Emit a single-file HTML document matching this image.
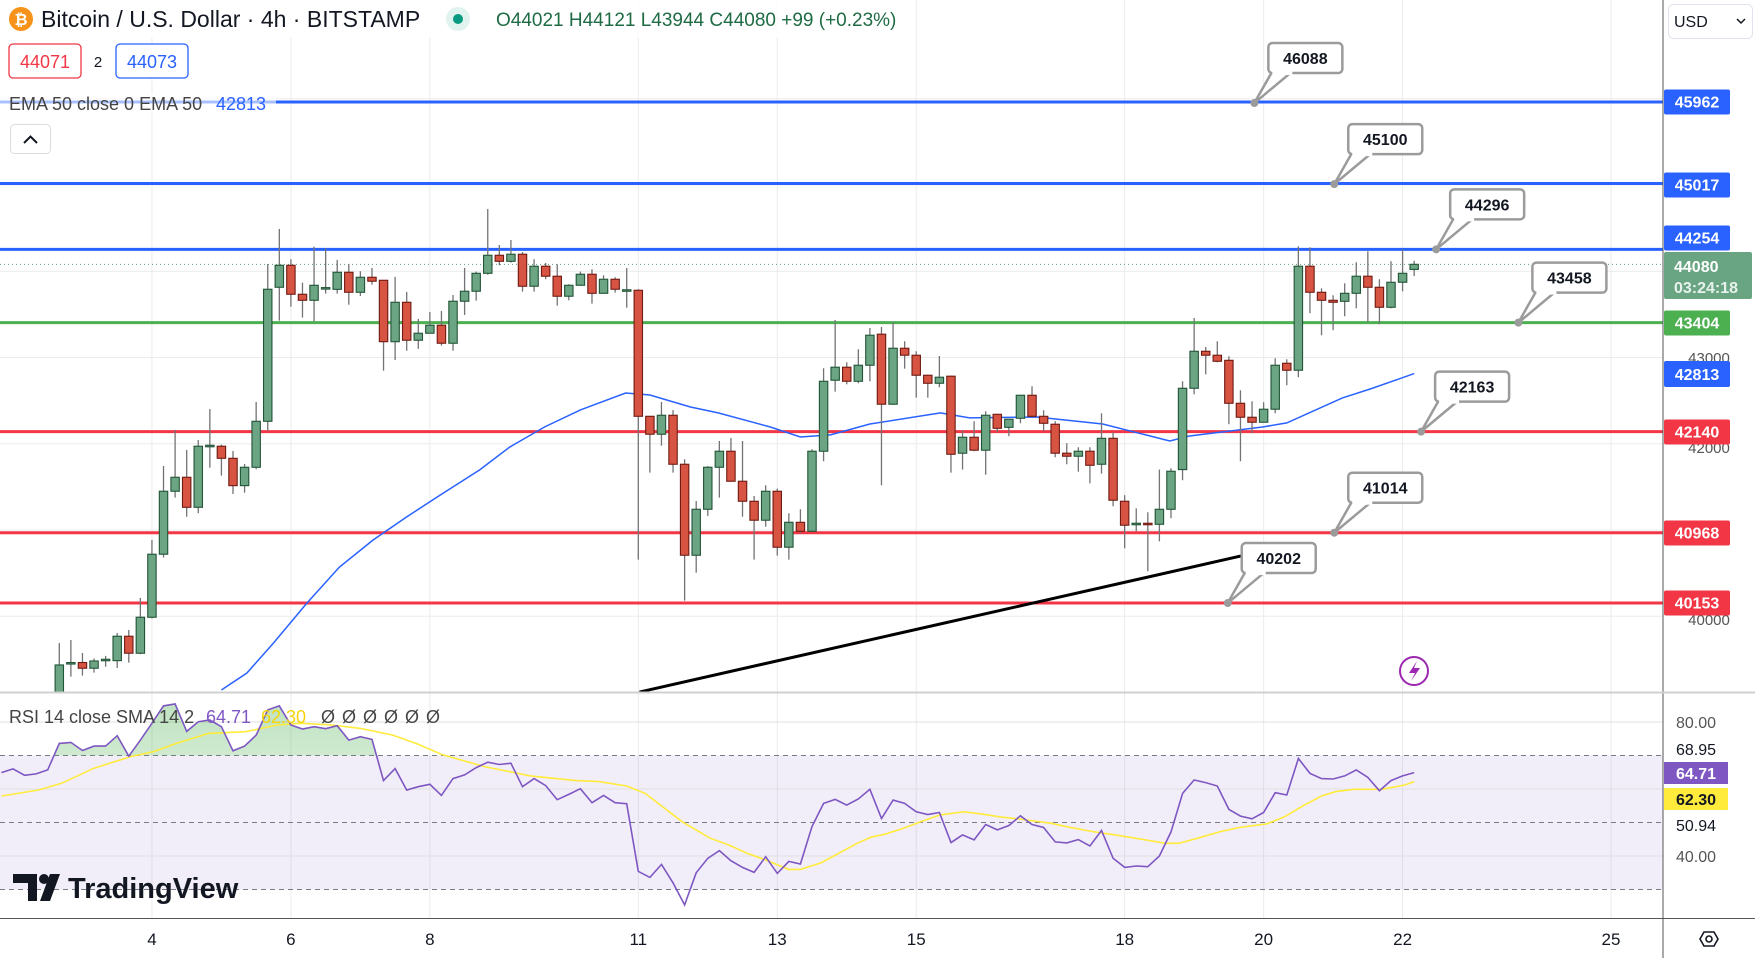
<!DOCTYPE html>
<html><head><meta charset="utf-8">
<style>
html,body{margin:0;padding:0;background:#fff;width:1755px;height:958px;overflow:hidden;font-family:"Liberation Sans",sans-serif;}
svg{display:block}
text{font-family:"Liberation Sans",sans-serif}
</style></head>
<body>
<svg id="chart" width="1755" height="958" viewBox="0 0 1755 958" xmlns="http://www.w3.org/2000/svg">
<defs>
<clipPath id="mainClip"><rect x="0" y="0" width="1663" height="692"/></clipPath>
<clipPath id="rsiClip"><rect x="0" y="693" width="1663" height="225"/></clipPath>
<linearGradient id="obGrad" x1="0" y1="0" x2="0" y2="1"><stop offset="0" stop-color="#4caf50" stop-opacity="0.35"/><stop offset="1" stop-color="#4caf50" stop-opacity="0.04"/></linearGradient>
</defs>
<g id="grid"></g>
<g id="main" clip-path="url(#mainClip)"></g>
<g id="rsi" clip-path="url(#rsiClip)"></g>
<g id="axes"></g>
<g id="overlay"></g>
</svg>
<script>
const opens=[39050,39447,39463,39397,39495,39485,39768,39571,39988,40719,41449,41611,41263,41971,41971,41831,41514,41727,42260,43814,44069,43733,43663,43800,43790,43988,43756,43930,43895,43183,43640,43200,43281,43374,43165,43652,43768,43976,44185,44115,44197,43826,44058,43942,43710,43837,43965,43744,43907,43779,43779,42318,42110,42330,41762,40707,41240,41727,41913,41565,41333,41113,41449,40800,41089,40985,41913,42736,42887,42724,42910,43270,42458,43107,43026,42794,42701,42783,41890,42075,41925,42341,42190,42295,42562,42318,42226,41890,41855,41913,41762,42063,41333,41070,41078,41066,41240,41700,42643,43072,43026,42967,42469,42307,42249,42400,42933,42852,44058,43756,43663,43651,43744,43942,43814,43582,43872,44021];
const highs=[39690,39725,39574,39510,39540,39806,39841,40212,40884,41742,42160,41928,42044,42403,41990,41916,41765,42484,44084,44490,44139,43867,44285,44266,44131,44084,44000,44038,43895,43934,43760,43447,43528,43539,43725,44038,43995,44722,44304,44362,44223,44139,44096,44081,43849,43995,44023,43953,43930,44038,43791,42322,42484,42391,41820,41336,41740,42032,42067,42032,41394,41518,41480,41194,41240,41936,42875,43435,42944,43095,43342,43354,43412,43188,43072,42800,43017,42790,42156,42261,42376,42345,42284,42562,42666,42388,42261,42005,41959,41959,42353,42133,41403,41251,41205,41700,41716,42724,43458,43122,43188,43014,42620,42492,42481,42991,42979,44289,44277,43802,43721,43860,44104,44232,43907,44116,44253,44121];
const lows=[38950,39300,39311,39346,39415,39400,39462,39560,39975,40680,41375,41154,41194,41722,41630,41418,41433,41704,42145,43427,43589,43462,43415,43740,43740,43612,43713,43844,42847,42971,43079,43099,43281,43137,43079,43493,43659,43960,44069,44100,43763,43763,43907,43601,43663,43837,43624,43744,43752,43577,40656,41665,41977,41665,40181,40505,41163,41375,41560,41154,40656,41038,40703,40656,40962,40975,41797,42604,42689,42701,42724,41518,42450,42870,42534,42534,42654,41665,41700,41913,41641,42133,42087,42237,42318,42145,41843,41762,41676,41541,41653,41275,40788,40985,40521,40869,41136,41577,42573,42805,42944,42226,41797,42121,42249,42353,42678,42771,43513,43257,43316,43478,43570,43408,43385,43570,43767,43944];
const closes=[39435,39463,39397,39481,39501,39768,39571,39988,40719,41449,41611,41263,41971,41982,41831,41514,41727,42260,43791,44069,43733,43663,43837,43810,43988,43756,43930,43884,43183,43640,43200,43281,43374,43165,43652,43768,43976,44185,44115,44197,43826,44058,43942,43710,43837,43965,43744,43907,43791,43785,42318,42110,42330,41762,40707,41240,41727,41913,41565,41333,41113,41449,40800,41089,40985,41913,42724,42887,42724,42910,43258,42458,43107,43026,42794,42701,42771,41878,42075,41925,42330,42179,42284,42562,42318,42237,41890,41855,41913,41750,42063,41345,41055,41078,41070,41240,41681,42643,43072,43026,42956,42469,42307,42249,42400,42910,42852,44058,43756,43663,43640,43744,43942,43814,43582,43872,43976,44080];
const emaIdx=[15,17.2,19.5,22.4,25.2,28.1,31,33.9,37.3,39.9,42.9,46,49.9,52,55.5,57.9,62.4,65,67.6,71,77.1,79.6,85.4,91.1,96.9,98.6,104.9,107,111.8,114.2,118];
const emaVal=[39145,39342,39690,40154,40571,40884,41151,41406,41696,41962,42194,42392,42588,42565,42426,42357,42194,42078,42102,42229,42357,42299,42310,42229,42032,42090,42194,42241,42531,42635,42813];
const rsiStartIdx=-4;
const rsiVals=[64.9,66.0,64.1,64.5,65.7,73.6,73.9,71.5,72.8,72.8,75.9,69.8,74.6,79.6,84.8,85.4,77.2,80.1,80.6,78.6,71.4,72.8,76.1,83.6,84.8,79.1,77.9,78.6,78.0,78.9,74.6,75.6,74.8,62.5,66.1,59.7,60.7,61.4,58.1,63.1,64.2,66.4,68.0,67.3,67.7,60.7,63.1,61.0,56.8,58.4,60.1,55.9,58.1,55.9,55.6,35.4,33.6,37.5,32.0,25.4,35.0,39.3,41.6,38.6,36.6,35.1,39.8,34.8,38.4,37.6,48.8,55.7,56.9,55.2,57.0,59.9,51.2,56.7,55.7,53.2,52.4,53.0,44.0,46.3,44.8,49.4,47.8,49.1,52.0,49.4,48.5,44.2,43.9,44.9,43.0,47.6,39.3,36.6,37.0,36.8,40.0,47.2,58.7,62.7,61.9,60.9,53.9,51.9,51.1,53.0,58.9,58.2,69.1,64.7,63.1,63.0,63.9,65.7,63.5,59.5,62.5,63.9,64.9];
const smaIdx=[-4,-0.8,1.2,4,7.2,9.1,11.1,13.9,17.1,19.8,21.8,24.6,27,29.8,31.8,34.1,37.7,41.7,45.6,47.6,50,51.6,54.8,57.2,58.8,60.4,62,64,65,66.8,68.3,69.9,71.1,72.3,73.9,75.5,77.1,79.1,80.7,82.2,84.2,86.6,88.2,90.2,92.2,94.5,96.5,97.7,99.3,101.3,102.9,105.3,106.8,108.4,110,111.2,112.8,115.2,117.2,118];
const smaVals=[57.9,59.7,61.7,66.2,69.7,71.1,73.6,76.6,77.1,79.1,79.6,79.1,78.1,76.1,73.6,70.2,66.7,63.9,62.5,62.2,60.9,58.7,50.2,45.3,43.3,40.8,38.8,36.0,36.0,38.0,40.8,43.8,45.6,46.5,48.3,50.4,52.3,53.2,52.5,51.7,50.9,49.8,48.6,47.3,46.3,45.0,43.8,43.8,45.3,47.3,48.5,49.6,51.7,55.0,57.9,59.2,59.9,59.9,61.2,62.2];
const dayLabels=["4","6","8","11","13","15","18","20","22","25"];
const dayNums=[4,6,8,11,13,15,18,20,22,25];
const priceTicks=[40000,41000,42000,43000,44000,45000,46000];
const levelPrices=[45962,45017,44254,43404,42140,40968,40153];
const levelColors=["#2962ff","#2962ff","#2962ff","#4caf50","#f23645","#f23645","#f23645"];
const levelLabelY=[102,185,238,323,432,533,603];
const calloutVals=["46088","45100","44296","43458","42163","41014","40202"];
const calloutIdx=[104.2,111.1,119.9,127.0,118.6,111.1,101.9];
const calloutPrices=[45950,45010,44254,43404,42140,40968,40153];
const rsiTicks=[80,60,40];
const rsiBands=[70,50,30];

const NS="http://www.w3.org/2000/svg";
function mk(tag,attrs,parent){const e=document.createElementNS(NS,tag);for(const k in attrs)e.setAttribute(k,attrs[k]);parent.appendChild(e);return e;}
const xOf=i=>59.3+(i-1)*11.58;
const yP=p=>102+(45962-p)*0.08625;
const yR=v=>722+(80-v)*3.35;
const xDay=d=>xOf(9+(d-4)*6);

const grid=document.getElementById('grid'),main=document.getElementById('main'),rsi=document.getElementById('rsi'),axes=document.getElementById('axes'),ov=document.getElementById('overlay');

dayNums.forEach((d,k)=>{const l=mk('line',{x1:xDay(d),x2:xDay(d),y1:0,y2:918,stroke:'#ebebeb','stroke-width':1},grid);

});
priceTicks.forEach(p=>{const l=mk('line',{x1:0,x2:1663,y1:yP(p),y2:yP(p),stroke:'#ebebeb','stroke-width':1},grid);

});

levelPrices.forEach((p,k)=>{const l=mk('line',{x1:0,x2:1663,y1:yP(p),y2:yP(p),stroke:levelColors[k],'stroke-width':3},main);

});
const cp=mk('line',{x1:0,x2:1663,y1:yP(closes[closes.length-1]),y2:yP(closes[closes.length-1]),stroke:'#5b9c7a','stroke-width':1,'stroke-dasharray':'1 3'},main);



const tl=mk('line',{x1:xOf(51.1),y1:yP(39121),x2:xOf(103.1),y2:yP(40700),stroke:'#000','stroke-width':3},main);



let ed='';emaIdx.forEach((i,k)=>{ed+=(k?'L':'M')+xOf(i).toFixed(1)+' '+yP(emaVal[k]).toFixed(1);});
const ema=mk('path',{d:ed,fill:'none',stroke:'#2962ff','stroke-width':1.5},main);



for(let i=0;i<opens.length;i++){
 const x=xOf(i+1),o=opens[i],c=closes[i],up=c>=o;
 const g=mk('g',{},main);
 
 
 mk('line',{x1:x,x2:x,y1:yP(highs[i]),y2:yP(lows[i]),stroke:'#737375','stroke-width':1.3},g);
 const top=yP(Math.max(o,c)),h=Math.max(yP(Math.min(o,c))-top,1.5);
 mk('rect',{x:x-4.2,y:top,width:8.4,height:h,fill:up?'#6ba583':'#d75442',stroke:up?'#225437':'#6f1a12','stroke-width':1.1},g);
}

const band=mk('rect',{x:0,y:yR(70),width:1663,height:yR(30)-yR(70),fill:'#7e57c2','fill-opacity':0.1},rsi);


rsiTicks.forEach(v=>{const l=mk('line',{x1:0,x2:1663,y1:yR(v),y2:yR(v),stroke:'#e0e0e0','stroke-width':1},rsi);

});
rsiBands.forEach(v=>{const l=mk('line',{x1:0,x2:1663,y1:yR(v),y2:yR(v),stroke:'#787b86','stroke-width':1,'stroke-dasharray':'5 4'},rsi);

});
let rd='';rsiVals.forEach((v,k)=>{rd+=(k?'L':'M')+xOf(rsiStartIdx+k).toFixed(1)+' '+yR(v).toFixed(1);});
const clipOb=mk('clipPath',{id:'obClip'},document.querySelector('defs'));mk('rect',{x:0,y:0,width:1663,height:yR(70)},clipOb);
const fillD=rd+'L'+xOf(rsiStartIdx+rsiVals.length-1).toFixed(1)+' '+yR(70)+'L'+xOf(rsiStartIdx)+' '+yR(70)+'Z';
const ob=mk('path',{d:fillD,fill:'url(#obGrad)','clip-path':'url(#obClip)'},rsi);


let sd='';smaIdx.forEach((i,k)=>{sd+=(k?'L':'M')+xOf(i).toFixed(1)+' '+yR(smaVals[k]).toFixed(1);});
const sma=mk('path',{d:sd,fill:'none',stroke:'#ffeb3b','stroke-width':1.6},rsi);


const rl=mk('path',{d:rd,fill:'none',stroke:'#7e57c2','stroke-width':1.6},rsi);



[['line',{x1:1663,x2:1663,y1:0,y2:958,stroke:'#555','stroke-width':1},'price-axis-border'],
 ['line',{x1:0,x2:1755,y1:692.5,y2:692.5,stroke:'#d0d0d0','stroke-width':2},'pane-separator'],
 ['line',{x1:0,x2:1755,y1:918.5,y2:918.5,stroke:'#555','stroke-width':1},'time-axis-border']].forEach(a=>{const e=mk(a[0],a[1],axes);
 
 });

dayLabels.forEach((t,k)=>{const e=mk('text',{x:xDay(dayNums[k]),y:945,'font-size':17,fill:'#131722','text-anchor':'middle'},axes);e.textContent=t;

});

[[43000,357],[42000,447],[40000,619]].forEach(a=>{const e=mk('text',{x:1709,y:a[1]+6,'font-size':15,fill:'#555','text-anchor':'middle'},axes);e.textContent=a[0];

});

levelPrices.forEach((p,k)=>{const g=mk('g',{},axes);
 
 
 const y=levelLabelY[k];
 mk('rect',{x:1664,y:y-12.5,width:66,height:25,rx:2,fill:levelColors[k]},g);
 const t=mk('text',{x:1697,y:y+5.5,'font-size':16,'font-weight':'bold',fill:'#fff','text-anchor':'middle'},g);t.textContent=p;});
(function(){const g=mk('g',{},axes);
 
 
 mk('rect',{x:1664,y:361,width:66,height:26,rx:2,fill:'#2962ff'},g);
 const t=mk('text',{x:1697,y:380,'font-size':16,'font-weight':'bold',fill:'#fff','text-anchor':'middle'},g);t.textContent=emaVal[emaVal.length-1];})();
(function(){const g=mk('g',{},axes);
 
 
 mk('rect',{x:1664,y:252,width:88,height:47,rx:2,fill:'#6aa583'},g);
 const t=mk('text',{x:1674,y:272,'font-size':16,'font-weight':'bold',fill:'#fff'},g);t.textContent=closes[closes.length-1];
 const t2=mk('text',{x:1674,y:293,'font-size':16,'font-weight':'bold',fill:'#e8f2ec'},g);t2.textContent='03:24:18';})();

[['80.00',722,'#555',null],['68.95',749,'#131722',null],['64.71',773,'#fff','#7e57c2'],['62.30',799,'#131722','#ffeb3b'],['50.94',825,'#131722',null],['40.00',856,'#555',null]].forEach(a=>{
 const g=mk('g',{},axes);
 
 
 if(a[3])mk('rect',{x:1664,y:a[1]-11,width:64,height:22,fill:a[3]},g);
 const t=mk('text',{x:1676,y:a[1]+6,'font-size':16,fill:a[2],'font-weight':a[3]?'bold':'normal'},g);t.textContent=a[0];});

calloutVals.forEach((v,k)=>{const g=mk('g',{},ov);
 
 
 const dx=xOf(calloutIdx[k]),dy=yP(calloutPrices[k]);
 const bx=dx+14,by=dy-60;
 mk('path',{d:`M${bx+3} ${by+30} L${dx} ${dy} L${bx+22} ${by+30} Z`,fill:'#fff',stroke:'#9b9b9b','stroke-width':2.5,'stroke-linejoin':'round'},g);
 mk('rect',{x:bx,y:by,width:74,height:30,rx:4,fill:'#fff',stroke:'#9b9b9b','stroke-width':2.5},g);
 mk('rect',{x:bx+4,y:by+26,width:20,height:6,fill:'#fff'},g);
 mk('circle',{cx:dx,cy:dy,r:4,fill:'#9b9b9b'},g);
 const t=mk('text',{x:bx+37,y:by+21,'font-size':16,'font-weight':'bold',fill:'#131722','text-anchor':'middle'},g);t.textContent=v;});
</script>

<svg style="position:absolute;left:0;top:0" width="1755" height="958">
 <rect x="0" y="0" width="905" height="38" fill="#fff" fill-opacity="0.85"/>
 <circle cx="21" cy="19" r="12" fill="#f7931a"/>
 <text x="21" y="25" font-size="16" font-weight="bold" fill="#fff" text-anchor="middle">₿</text>
 <text x="41" y="27" font-size="23" fill="#131722">Bitcoin / U.S. Dollar · 4h · BITSTAMP</text>
 <circle cx="458" cy="19" r="12" fill="#e0f3ee"/>
 <circle cx="458" cy="19" r="5" fill="#089981"/>
 <text x="496" y="26" font-size="19" fill="#1f6b44">O44021 H44121 L43944 C44080 +99 (+0.23%)</text>
 <rect x="9" y="44" width="72" height="34" rx="4" fill="#fff" stroke="#f23645" stroke-width="1.3"/>
 <text x="45" y="68" font-size="18" fill="#f23645" text-anchor="middle">44071</text>
 <text x="98" y="67" font-size="15" fill="#131722" text-anchor="middle">2</text>
 <rect x="116" y="44" width="72" height="34" rx="4" fill="#fff" stroke="#2962ff" stroke-width="1.3"/>
 <text x="152" y="68" font-size="18" fill="#2962ff" text-anchor="middle">44073</text>
 <rect x="0" y="92" width="276" height="22" fill="#fff" fill-opacity="0.6"/>
 <text x="9" y="110" font-size="18" fill="#444">EMA 50 close 0 EMA 50</text>
 <text x="216" y="110" font-size="18" fill="#2962ff">42813</text>
 <rect x="10.5" y="124.5" width="40" height="29" rx="4" fill="#fff" stroke="#dcdcdc"/>
 <path d="M24 143 L30.5 136.5 L37 143" fill="none" stroke="#131722" stroke-width="2"/>
 <text x="9" y="723" font-size="18" fill="#444">RSI 14 close SMA 14 2</text>
 <text x="206" y="723" font-size="18" fill="#7e57c2">64.71</text>
 <text x="261" y="723" font-size="18" fill="#f5d50a">62.30</text>
 <text x="321" y="723" font-size="18" fill="#444" letter-spacing="7">ØØØØØØ</text>
 <g>
  <path d="M13 874 H37 V901 H28 V883 H13 Z" fill="#131722"/>
  <circle cx="44" cy="879" r="5" fill="#131722"/>
  <path d="M50 874 H60 L50 901 H40 Z" fill="#131722"/>
  <text x="68" y="898" font-size="29" font-weight="bold" fill="#131722">TradingView</text>
 </g>
 <g>
  <circle cx="1414" cy="671" r="14" fill="#fff" stroke="#9c27b0" stroke-width="2"/>
  <path d="M1417 661 L1409 673 H1415 L1411 681 L1420 668 H1414 Z" fill="#9c27b0"/>
 </g>
 <rect x="1668.5" y="4.5" width="84" height="34" rx="5" fill="#fff" stroke="#e0e3eb"/>
 <text x="1674" y="27" font-size="16" fill="#131722">USD</text>
 <path d="M1737 19 L1741 23 L1745 19" fill="none" stroke="#131722" stroke-width="1.5"/>
 <g>
  <path d="M1700 939 L1704 932 H1714 L1718 939 L1714 946 H1704 Z" fill="none" stroke="#131722" stroke-width="1.6"/>
  <circle cx="1709" cy="939" r="3" fill="none" stroke="#131722" stroke-width="1.6"/>
 </g>
</svg>
</body></html>
